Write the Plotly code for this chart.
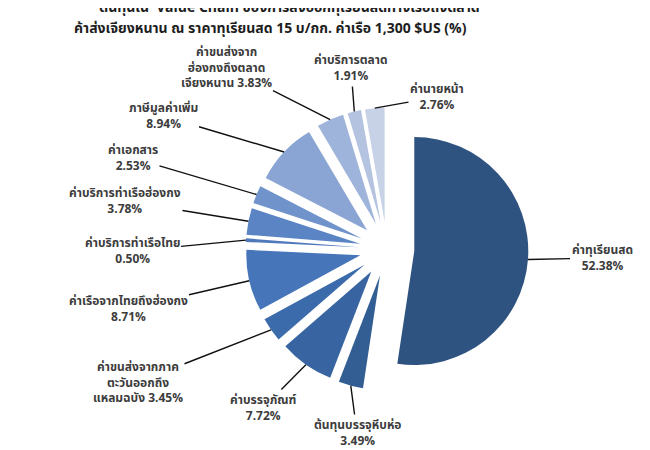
import math
import plotly.graph_objects as go

# ---------------- data ----------------
categories = [
    "ค่าทุเรียนสด",
    "ต้นทุนบรรจุหีบห่อ",
    "ค่าบรรจุภัณฑ์",
    "ค่าขนส่งจากภาคตะวันออกถึงแหลมฉบัง",
    "ค่าเรือจากไทยถึงฮ่องกง",
    "ค่าบริการท่าเรือไทย",
    "ค่าบริการท่าเรือฮ่องกง",
    "ค่าเอกสาร",
    "ภาษีมูลค่าเพิ่ม",
    "ค่าขนส่งจากฮ่องกงถึงตลาดเจียงหนาน",
    "ค่าบริการตลาด",
    "ค่านายหน้า",
]
values = [52.38, 3.49, 7.72, 3.45, 8.71, 0.50, 3.78, 2.53, 8.94, 3.83, 1.91, 2.76]
label_lines = [
    ["ค่าทุเรียนสด"],
    ["ต้นทุนบรรจุหีบห่อ"],
    ["ค่าบรรจุภัณฑ์"],
    ["ค่าขนส่งจากภาค", "ตะวันออกถึง", "แหลมฉบัง"],
    ["ค่าเรือจากไทยถึงฮ่องกง"],
    ["ค่าบริการท่าเรือไทย"],
    ["ค่าบริการท่าเรือฮ่องกง"],
    ["ค่าเอกสาร"],
    ["ภาษีมูลค่าเพิ่ม"],
    ["ค่าขนส่งจาก", "ฮ่องกงถึงตลาด", "เจียงหนาน"],
    ["ค่าบริการตลาด"],
    ["ค่านายหน้า"],
]
title_line1 = "ต้นทุนใน  Value Chain ของการส่งออกทุเรียนสดทางเรือถึงตลาด"
title_line2 = "ค้าส่งเจียงหนาน ณ ราคาทุเรียนสด 15 บ/กก. ค่าเรือ 1,300 $US (%)"

# ---------------- styles / layout ----------------
colors = ["#2F5380", "#335E93", "#3864A1", "#3C6BAB", "#4675B9", "#5079BC",
          "#5A84C3", "#6F93CA", "#8AA5D3", "#9FB4DA", "#B4C3E0", "#C8D2E7"]
# label text centres (pixels)
label_pos = [(594, 250), (349, 425), (255, 400), (130, 374), (120, 301),
             (124, 243), (117, 193), (125, 150), (155, 108), (218, 59),
             (343, 60), (429, 89)]

W, H = 650, 450
PULL = 0.24
CX, CY, R = 379, 241, 114
box = 2 * R * (1 + PULL)
dom_x = [(CX - box / 2) / W, (CX + box / 2) / W]
dom_y = [1 - (CY + box / 2) / H, 1 - (CY - box / 2) / H]

fig = go.Figure(go.Pie(
    labels=categories,
    values=values,
    sort=False,
    direction="clockwise",
    rotation=0,
    pull=PULL,
    marker=dict(colors=colors, line=dict(width=0)),
    textinfo="none",
    showlegend=False,
    domain=dict(x=dom_x, y=dom_y),
))

# label annotations with leader lines to slice mid-points
total = sum(values)
cum = 0.0
font = dict(family="Tahoma, 'Noto Sans Thai', 'Noto Sans', sans-serif", size=12,
            color="#3C3C3C", weight="bold")
for i, v in enumerate(values):
    mid = (cum + v / 2) / total * 2 * math.pi
    cum += v
    tx = CX + (1 + PULL) * R * math.sin(mid)
    ty = CY - (1 + PULL) * R * math.cos(mid)
    lines = list(label_lines[i])
    pct = f"{v:.2f}%"
    if len(lines) == 1:
        lines.append(pct)
    else:
        lines[-1] = lines[-1] + " " + pct
    lx, ly = label_pos[i]
    fig.add_annotation(
        x=tx / W, y=1 - ty / H, xref="paper", yref="paper",
        ax=lx - tx, ay=ly - ty,
        text="<br>".join(lines), showarrow=True, arrowhead=0,
        arrowwidth=1.4, arrowcolor="#111111", standoff=0,
        font=font, align="center",
    )

tfont = dict(family="Tahoma, 'Noto Sans Thai', 'Noto Sans', sans-serif", size=14,
             color="#1E1E1E", weight="bold")
fig.add_annotation(x=281 / W, y=1 + 1 / H, xref="paper", yref="paper",
                   text=title_line1, showarrow=False, font=tfont,
                   xanchor="center", yanchor="middle")
fig.add_annotation(x=262 / W, y=1 - 21 / H, xref="paper", yref="paper",
                   text=title_line2, showarrow=False, font=tfont,
                   xanchor="center", yanchor="middle")

fig.update_layout(
    width=W, height=H,
    margin=dict(l=0, r=0, t=0, b=0),
    paper_bgcolor="white", plot_bgcolor="white",
)
fig.write_html("out.html")
